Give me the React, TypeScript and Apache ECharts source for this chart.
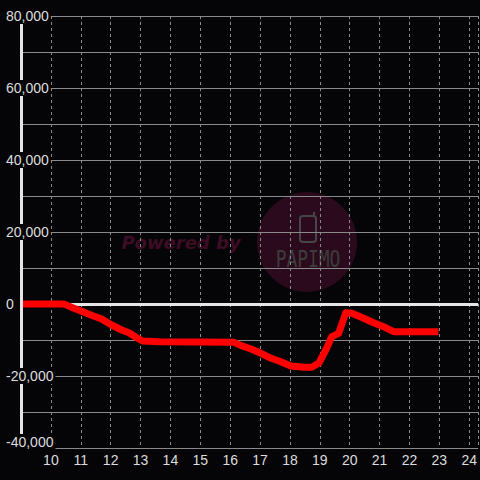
import React, { useEffect, useRef } from "react";
import * as echarts from "echarts";

const hours: number[] = [
  9.0, 10.3, 10.47, 10.73, 11.07, 11.4, 11.7, 12.03, 12.37, 12.63, 12.87, 13.07, 13.63,
  16.13, 16.37, 16.7, 17.03, 17.37, 17.7, 18.03, 18.47, 18.73, 18.97, 19.2, 19.4, 19.63,
  19.87, 20.07, 20.47, 20.8, 21.13, 21.47, 22.97,
];
const values: number[] = [
  0, 0, -100, -1030, -2140, -3250, -4170, -5830, -7220, -8060, -9360, -10280, -10470,
  -10640, -11580, -12500, -13690, -15080, -16030, -17220, -17580, -17580, -16390, -12780, -9080, -8140,
  -2420, -2580, -3970, -5190, -6310, -7690, -7690,
];
const yMin = -40000;
const yMax = 80000;
const yStep = 20000;
const xMin = 9;
const xMax = 24.3;

export default function App() {
  const ref = useRef<HTMLDivElement>(null);
  useEffect(() => {
    if (!ref.current) return;
    const chart = echarts.init(ref.current, undefined, { renderer: "svg" });
    const labelColor = "#dddddd";
    const gridColor = "#8a8a8a";
    const bg = "#050507";
    chart.setOption({
      animation: false,
      backgroundColor: bg,
      grid: { left: 21, right: 0, top: 16, bottom: 32, containLabel: false },
      graphic: [
        {
          type: "group",
          z: -10,
          children: [
            {
              type: "circle",
              shape: { cx: 307, cy: 242, r: 50 },
              style: { fill: "#2c0a1d" },
              z: -10,
            },
            {
              type: "rect",
              shape: { x: 300, y: 216, width: 16, height: 26, r: 3 },
              style: { fill: "none", stroke: "#464646", lineWidth: 2 },
              z: -9,
            },
            {
              type: "line",
              shape: { x1: 314, y1: 216, x2: 314, y2: 212 },
              style: { stroke: "#464646", lineWidth: 2 },
              z: -9,
            },
            {
              type: "text",
              x: 308,
              y: 259,
              scaleX: 0.78,
              originX: 0,
              originY: 0,
              z: -9,
              style: {
                text: "PAPIMO",
                fill: "#3c3c3c",
                font: "normal 23px 'DejaVu Sans Mono'",
                align: "center",
                verticalAlign: "middle",
              },
            },
            {
              type: "text",
              x: 181,
              y: 242,
              z: -9,
              style: {
                text: "Powered by",
                fill: "#3d0c25",
                font: "italic bold 18px 'DejaVu Sans'",
                align: "center",
                verticalAlign: "middle",
              },
            },
          ],
        },
      ],
      xAxis: {
        type: "value",
        min: xMin,
        max: xMax,
        interval: 1,
        axisLine: { show: false },
        axisTick: { show: false },
        axisLabel: {
          color: labelColor,
          fontSize: 14,
          fontFamily: "Liberation Sans",
          margin: 5,
          showMaxLabel: false,
          formatter: (v: number) => (v >= 10 && v <= 24 && Number.isInteger(v) ? String(v) : ""),
        },
        splitLine: { show: true, lineStyle: { color: gridColor, type: [3, 3], width: 1 } },
      },
      yAxis: [
        {
          type: "value",
          min: yMin,
          max: yMax,
          interval: yStep,
          axisLine: { show: false },
          axisTick: { show: false },
          axisLabel: { show: false },
          splitLine: { show: true, lineStyle: { color: gridColor, width: 1 } },
          minorTick: { show: false, splitNumber: 2 },
          minorSplitLine: { show: true, lineStyle: { color: gridColor, width: 1 } },
        },
        {
          type: "value",
          min: yMin,
          max: yMax,
          interval: yStep,
          position: "left",
          z: 5,
          axisLine: { show: true, lineStyle: { color: "#e4e4e4", width: 3 } },
          axisTick: { show: false },
          splitLine: { show: false },
          axisLabel: {
            align: "left",
            margin: 16,
            formatter: (v: number) => {
              const s = v.toLocaleString("en-US");
              return v === yMin ? `{a|${s}}\n{s|}` : `{a|${s}}`;
            },
            rich: {
              a: {
                color: labelColor,
                fontSize: 14,
                fontFamily: "Liberation Sans",
                backgroundColor: bg,
                padding: [1, 2, 1, 1],
              },
              s: { height: 12, fontSize: 1 },
            },
          },
        },
      ],
      series: [
        {
          type: "line",
          yAxisIndex: 0,
          z: 2,
          data: hours.map((h, i) => [h, values[i]]),
          showSymbol: false,
          symbol: "none",
          lineStyle: { color: "#ff0000", width: 7, join: "round" },
          markLine: {
            silent: true,
            symbol: "none",
            z: 1,
            label: { show: false },
            lineStyle: { color: "#e6e6e6", width: 3, type: "solid" },
            data: [{ yAxis: 0 }],
          },
        },
      ],
    });
    return () => chart.dispose();
  }, []);
  return (
    <div
      ref={ref}
      style={{ position: "fixed", left: 0, top: 0, width: 480, height: 480 }}
    />
  );
}
